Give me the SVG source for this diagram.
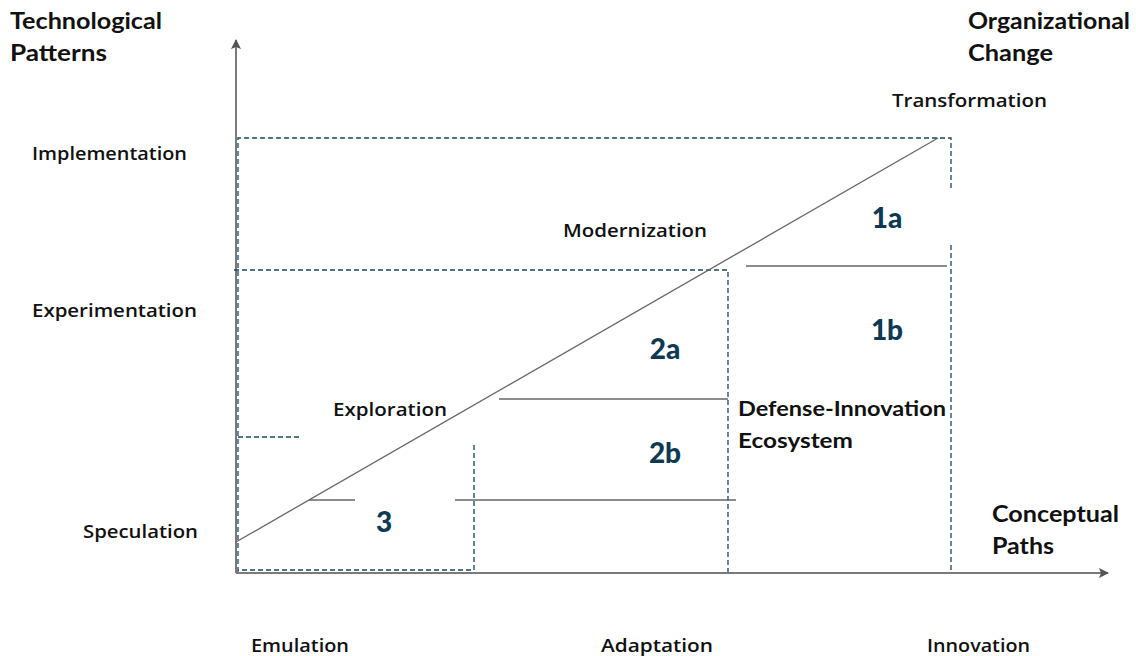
<svg xmlns="http://www.w3.org/2000/svg" width="1136" height="656" viewBox="0 0 1136 656">
<style>
.h{font-family:Lato,"Noto Sans",sans-serif;font-weight:700;font-size:22px;fill:#111}
.l{font-family:"Open Sans","Noto Sans",sans-serif;font-weight:600;font-size:18px;fill:#111}
.n{font-family:Lato,"Noto Sans",sans-serif;font-weight:900;font-size:28px;fill:#0d3a52}
.d{fill:none;stroke:#17455f;stroke-width:1.3;stroke-dasharray:5 3}
.s{fill:none;stroke:#666;stroke-width:1.3}
.ax{fill:none;stroke:#7a7a7a;stroke-width:2}
</style>
<defs>
<marker id="ar" viewBox="0 0 10 10" refX="9" refY="5" markerWidth="5" markerHeight="5" orient="auto" markerUnits="strokeWidth">
<path d="M0,0 L10,5 L0,10 L2,5 Z" fill="#555"/>
</marker>
</defs>
<rect width="1136" height="656" fill="#fff"/>
<g id="connectors">
<line class="ax" x1="236" y1="573" x2="236" y2="40" marker-end="url(#ar)"/>
<line class="ax" x1="236" y1="573" x2="1108" y2="573" marker-end="url(#ar)"/>
<path class="d" d="M238,572 V138 H951 V188"/>
<path class="d" d="M951,245 V572"/>
<path class="d" d="M234,270 H728 V572"/>
<path class="d" d="M238,437 H302"/>
<path class="d" d="M474,445 V570 H238"/>
<line class="s" x1="236" y1="542" x2="938" y2="138"/>
<line class="s" x1="746" y1="266" x2="947" y2="266"/>
<line class="s" x1="499" y1="399" x2="728" y2="399"/>
<line class="s" x1="309" y1="500" x2="355" y2="500"/>
<line class="s" x1="455" y1="500" x2="736" y2="500"/>
</g>
<g id="title-y"><text class="h" x="10" y="29" textLength="152" lengthAdjust="spacingAndGlyphs">Technological</text><text class="h" x="10" y="61" textLength="97" lengthAdjust="spacingAndGlyphs">Patterns</text></g>
<g id="title-oc"><text class="h" x="968" y="29" textLength="162" lengthAdjust="spacingAndGlyphs">Organizational</text><text class="h" x="968" y="61" textLength="85" lengthAdjust="spacingAndGlyphs">Change</text></g>
<g id="transformation"><text class="l" x="892" y="107" textLength="155" lengthAdjust="spacingAndGlyphs">Transformation</text></g>
<g id="implementation"><text class="l" x="32" y="160" textLength="155" lengthAdjust="spacingAndGlyphs">Implementation</text></g>
<g id="experimentation"><text class="l" x="32" y="317" textLength="165" lengthAdjust="spacingAndGlyphs">Experimentation</text></g>
<g id="speculation"><text class="l" x="83" y="538" textLength="115" lengthAdjust="spacingAndGlyphs">Speculation</text></g>
<g id="modernization"><text class="l" x="563" y="237" textLength="144" lengthAdjust="spacingAndGlyphs">Modernization</text></g>
<g id="exploration"><text class="l" x="333" y="416" textLength="114" lengthAdjust="spacingAndGlyphs">Exploration</text></g>
<g id="ecosystem"><text class="h" x="738" y="416" style="font-size:21px" textLength="208" lengthAdjust="spacingAndGlyphs">Defense-Innovation</text><text class="h" x="738" y="448" style="font-size:21px" textLength="115" lengthAdjust="spacingAndGlyphs">Ecosystem</text></g>
<g id="conceptual"><text class="h" x="992" y="522" textLength="127" lengthAdjust="spacingAndGlyphs">Conceptual</text><text class="h" x="992" y="554" textLength="62" lengthAdjust="spacingAndGlyphs">Paths</text></g>
<g id="emulation"><text class="l" x="251" y="652" textLength="98" lengthAdjust="spacingAndGlyphs">Emulation</text></g>
<g id="adaptation"><text class="l" x="601" y="652" textLength="112" lengthAdjust="spacingAndGlyphs">Adaptation</text></g>
<g id="innovation"><text class="l" x="927" y="652" textLength="103" lengthAdjust="spacingAndGlyphs">Innovation</text></g>
<g id="n1a"><text class="n" x="887" y="228" text-anchor="middle">1a</text></g>
<g id="n1b"><text class="n" x="887" y="340" text-anchor="middle">1b</text></g>
<g id="n2a"><text class="n" x="665" y="359" text-anchor="middle">2a</text></g>
<g id="n2b"><text class="n" x="665" y="463" text-anchor="middle">2b</text></g>
<g id="n3"><text class="n" x="384" y="532" text-anchor="middle">3</text></g>
</svg>
